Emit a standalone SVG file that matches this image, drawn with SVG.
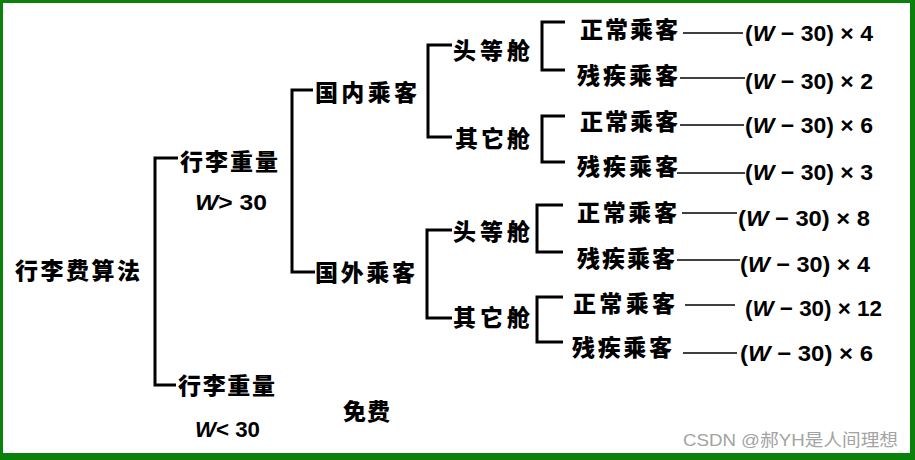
<svg xmlns="http://www.w3.org/2000/svg" width="915" height="460" viewBox="0 0 915 460">
<style>
.cn{font-family:"Noto Sans CJK SC","Noto Sans CJK TC",sans-serif;font-weight:900;font-size:23px;fill:#000}
.f{font-family:"Liberation Sans","Noto Sans",sans-serif;font-weight:bold;font-size:22px;fill:#000}
.i{font-style:italic}
.br{fill:none;stroke:#000;stroke-width:3;stroke-linejoin:miter}
.ln{stroke:#000;stroke-width:1.5}
.wm{font-family:"Liberation Sans","Noto Sans CJK SC",sans-serif;font-size:17px;fill:#a3a3a3}
</style>
<rect x="0" y="0" width="915" height="460" fill="#0b800b"/>
<rect x="3" y="3" width="907" height="450" fill="#fff"/>

<g id="connectors">
<path class="br" d="M178,158 H155 V385 H176"/>
<path class="br" d="M313,90 H292 V272 H315"/>
<path class="br" d="M452,45 H428 V137 H452"/>
<path class="br" d="M452,230 H427 V318 H452"/>
<path class="br" d="M565,22 H542 V70 H565"/>
<path class="br" d="M565,116 H542 V162 H565"/>
<path class="br" d="M563,205 H537 V252 H563"/>
<path class="br" d="M563,297 H537 V342 H563"/>
<line class="ln" x1="683" y1="33" x2="743" y2="33"/>
<line class="ln" x1="680" y1="78" x2="745" y2="78"/>
<line class="ln" x1="680" y1="125" x2="744" y2="125"/>
<line class="ln" x1="677" y1="173" x2="745" y2="173"/>
<line class="ln" x1="682" y1="213" x2="737" y2="213"/>
<line class="ln" x1="677" y1="260" x2="740" y2="260"/>
<line class="ln" x1="685" y1="305" x2="735" y2="305"/>
<line class="ln" x1="683" y1="353" x2="737" y2="353"/>
</g>

<g id="root"><text class="cn" x="15" y="279" font-size="24" textLength="125" lengthAdjust="spacing">行李费算法</text></g>

<g id="weight-over">
<text class="cn" x="180" y="170" textLength="98" lengthAdjust="spacing">行李重量</text>
<text class="f" x="195" y="210" font-size="21" textLength="72" lengthAdjust="spacingAndGlyphs"><tspan class="i">W</tspan>&gt; 30</text>
</g>
<g id="weight-under">
<text class="cn" x="178" y="394" textLength="97" lengthAdjust="spacing">行李重量</text>
<text class="f" x="195" y="437" font-size="21" textLength="65" lengthAdjust="spacingAndGlyphs"><tspan class="i">W</tspan>&lt; 30</text>
</g>
<g id="free"><text class="cn" x="343" y="420" textLength="47" lengthAdjust="spacing">免费</text></g>

<g id="domestic"><text class="cn" x="315" y="101" textLength="102" lengthAdjust="spacing">国内乘客</text></g>
<g id="international"><text class="cn" x="315" y="281" textLength="100" lengthAdjust="spacing">国外乘客</text></g>

<g id="dom-first"><text class="cn" x="453" y="59" textLength="77" lengthAdjust="spacing">头等舱</text></g>
<g id="dom-other"><text class="cn" x="455" y="147" textLength="75" lengthAdjust="spacing">其它舱</text></g>
<g id="int-first"><text class="cn" x="453" y="240" textLength="77" lengthAdjust="spacing">头等舱</text></g>
<g id="int-other"><text class="cn" x="453" y="326" textLength="77" lengthAdjust="spacing">其它舱</text></g>

<g id="r1"><text class="cn" x="580" y="38" textLength="98" lengthAdjust="spacing">正常乘客</text>
<text class="f" x="745" y="41" textLength="128" lengthAdjust="spacingAndGlyphs">(<tspan class="i">W</tspan> − 30) × 4</text></g>
<g id="r2"><text class="cn" x="577" y="84" textLength="101" lengthAdjust="spacing">残疾乘客</text>
<text class="f" x="745" y="89" textLength="128" lengthAdjust="spacingAndGlyphs">(<tspan class="i">W</tspan> − 30) × 2</text></g>
<g id="r3"><text class="cn" x="580" y="130" textLength="98" lengthAdjust="spacing">正常乘客</text>
<text class="f" x="745" y="133" textLength="128" lengthAdjust="spacingAndGlyphs">(<tspan class="i">W</tspan> − 30) × 6</text></g>
<g id="r4"><text class="cn" x="577" y="175" textLength="101" lengthAdjust="spacing">残疾乘客</text>
<text class="f" x="745" y="180" textLength="128" lengthAdjust="spacingAndGlyphs">(<tspan class="i">W</tspan> − 30) × 3</text></g>
<g id="r5"><text class="cn" x="577" y="221" textLength="100" lengthAdjust="spacing">正常乘客</text>
<text class="f" x="738" y="226" textLength="132" lengthAdjust="spacingAndGlyphs">(<tspan class="i">W</tspan> − 30) × 8</text></g>
<g id="r6"><text class="cn" x="577" y="267" textLength="98" lengthAdjust="spacing">残疾乘客</text>
<text class="f" x="740" y="272" textLength="130" lengthAdjust="spacingAndGlyphs">(<tspan class="i">W</tspan> − 30) × 4</text></g>
<g id="r7"><text class="cn" x="573" y="312" textLength="102" lengthAdjust="spacing">正常乘客</text>
<text class="f" x="745" y="316" textLength="137" lengthAdjust="spacingAndGlyphs">(<tspan class="i">W</tspan> − 30) × 12</text></g>
<g id="r8"><text class="cn" x="572" y="356" textLength="100" lengthAdjust="spacing">残疾乘客</text>
<text class="f" x="740" y="361" textLength="133" lengthAdjust="spacingAndGlyphs">(<tspan class="i">W</tspan> − 30) × 6</text></g>

<text class="wm" x="683" y="446" textLength="215" lengthAdjust="spacingAndGlyphs">CSDN @郝YH是人间理想</text>
</svg>
